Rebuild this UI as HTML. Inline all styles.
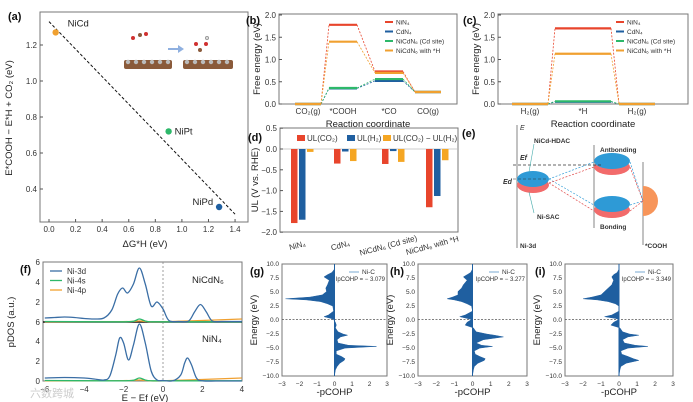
<!DOCTYPE html>
<html><head><meta charset="utf-8">
<style>
body{margin:0;background:#fff}
svg{display:block;font-family:"Liberation Sans",sans-serif}
.t{font-size:8px;fill:#333}
.lab{font-size:9.5px;fill:#222}
.pl{font-size:11px;font-weight:bold;fill:#111}
.fr{fill:none;stroke:#777;stroke-width:1}
</style></head>
<body>
<svg id="s" width="693" height="402" viewBox="0 0 693 402" xmlns="http://www.w3.org/2000/svg"></svg>
<script>
// ---------- data ----------
const aNames=["NiCd","NiPt","NiPd"];
const aX=[0.05,0.9,1.28];
const aY=[1.27,0.72,0.3];
const aColors=["#f0a030","#2db86a","#1f5fa0"];
const bSteps=["CO\u2082(g)","*COOH","*CO","CO(g)"];
const bNiN4=[0,1.78,0.73,0.27];
const bCdN4=[0,0.35,0.52,0.27];
const bCdSite=[0,0.36,0.56,0.27];
const bWithH=[0,1.4,0.7,0.27];
const cSteps=["H\u2082(g)","*H","H\u2082(g)"];
const cNiN4=[0,1.7,0];
const cCdN4=[0,0.05,0];
const cCdSite=[0,0.06,0];
const cWithH=[0,1.13,0];
const dCats=["NiN\u2084","CdN\u2084","NiCdN\u2086 (Cd site)","NiCdN\u2086 with *H"];
const dCO2=[-1.78,-0.35,-0.36,-1.4];
const dH2=[-1.7,-0.06,-0.05,-1.13];
const dDiff=[-0.07,-0.29,-0.31,-0.27];
const fEu=[-6,-5.5,-5,-4.5,-4,-3.5,-3,-2.6,-2.3,-2.05,-1.8,-1.5,-1.2,-0.9,-0.6,-0.3,0,0.3,0.8,1.3,1.6,1.9,2.2,2.5,3,4];
const fUp3d=[0.4,0.45,0.5,0.45,0.35,0.3,0.4,1.2,2.8,3.4,2.9,3.8,5.4,3.8,1.6,2.0,1.3,0.15,0.05,0.1,1.0,1.75,1.0,0.1,0.05,0.05];
const fEl=[-6,-5,-4,-3.5,-3,-2.7,-2.4,-2.2,-2.0,-1.75,-1.5,-1.2,-0.9,-0.6,-0.3,0,0.5,0.9,1.1,1.25,1.45,1.7,2,3,4];
const fLo3d=[0.3,0.35,0.3,0.2,0.1,0.5,2.6,4.3,3.8,2.1,3.6,5.7,3.8,1.0,0.1,0.05,0.02,0.6,1.8,2.3,1.6,0.3,0.02,0,0];
const fE4=[-6,-3,-1.6,-1.2,-0.8,0,4];
const f4s=[0.05,0.02,0.05,0.3,0.05,0.02,0.02];
const f4p=[0.02,0.02,0.05,0.1,0.05,0.02,0.3];
const cohpE=[9,8.4,8,7.6,7,6.2,5.6,5,4.4,4,3.7,3.5,3.2,2.8,2.4,1.5,0.8,0.5,0.2,0,-0.5,-1,-1.5,-2.2,-2.6,-2.8,-3.1,-3.6,-4.2,-4.6,-4.8,-5.1,-5.6,-6.2,-6.6,-7,-7.3,-7.8,-8.4,-9,-10];
const gV=[0,-0.15,-0.4,-0.6,-0.3,-0.4,-0.5,-0.45,-0.7,-1.4,-2.8,-1.6,-0.8,-0.4,-0.1,-0.05,-0.35,-0.6,-0.2,-0.05,0.05,0.1,0.05,0.2,0.5,0.75,0.35,0.15,0.2,0.8,2.4,0.6,0.1,0.1,0.4,0.6,0.55,0.3,0.15,0.05,0];
const hV=[0,-0.1,-0.3,-0.5,-0.3,-0.5,-0.6,-0.8,-0.8,-1.1,-1.4,-1.0,-0.6,-0.3,-0.05,0,-0.4,-0.7,-0.3,-0.05,-0.3,-0.4,0.05,0.2,0.8,1.2,1.7,0.6,0.2,0.5,1.1,0.4,0.1,0.15,0.4,0.7,0.65,0.3,0.1,0.05,0];
const iV=[0,-0.1,-0.3,-0.4,-0.3,-0.4,-0.6,-0.8,-1.0,-1.5,-2.0,-1.2,-0.6,-0.2,0,0,-0.4,-0.8,-0.2,0,-0.3,-0.45,0.05,0.2,0.6,1.1,0.5,0.2,0.3,0.9,1.6,0.5,0.1,0.15,0.5,0.8,1.1,0.4,0.1,0.05,0];
const gIp="\u2212 3.079", hIp="\u2212 3.277", iIp="\u2212 3.349";

// ---------- helpers ----------
const S=document.getElementById('s');
const NS="http://www.w3.org/2000/svg";
function mk(tag,at,txt,par){const e=document.createElementNS(NS,tag);for(const k in at)e.setAttribute(k,at[k]);if(txt!=null)e.textContent=txt;(par||S).appendChild(e);return e;}
function T(x,y,s,cls,anchor,extra){const e=mk('text',Object.assign({x:x,y:y,class:cls||'t','text-anchor':anchor||'middle'},extra||{}),s);return e;}
function smooth(pts){let d="M"+pts[0][0]+","+pts[0][1];for(let i=0;i<pts.length-1;i++){const p0=pts[i-1]||pts[i],p1=pts[i],p2=pts[i+1],p3=pts[i+2]||p2;
const c1=[p1[0]+(p2[0]-p0[0])/6,p1[1]+(p2[1]-p0[1])/6],c2=[p2[0]-(p3[0]-p1[0])/6,p2[1]-(p3[1]-p1[1])/6];d+="C"+c1+" "+c2+" "+p2;}return d;}
function panelLabel(x,y,s){const e=T(x,y,s,'pl','start');}

// ---------- (a) ----------
(function(){
const X=v=>49+v*132.9, Y=v=>45+(1.2-v)*180;
const g=mk('g',{});
mk('rect',{x:40,y:12,width:208,height:210,class:'fr'},null,g);
[0,0.2,0.4,0.6,0.8,1.0,1.2,1.4].forEach(v=>{mk('line',{x1:X(v),x2:X(v),y1:222,y2:219,stroke:'#555'},null,g);T(X(v),232,v.toFixed(1));});
[0.4,0.6,0.8,1.0,1.2].forEach(v=>{mk('line',{x1:40,x2:43,y1:Y(v),y2:Y(v),stroke:'#555'},null,g);T(37,Y(v)+3,v.toFixed(1),'t','end');});
T(145,247,"ΔG*H (eV)",'lab');
const yl=T(12,118,"E*COOH − E*H + CO₂ (eV)",'lab','middle',{transform:'rotate(-90 12 118)'});
const dl=mk('line',{x1:X(0),y1:Y(1.33),x2:X(1.4),y2:Y(0.26),stroke:'#111','stroke-dasharray':'3,2','stroke-width':1},null,g);

aX.forEach((v,i)=>{const c=mk('circle',{cx:X(v),cy:Y(aY[i]),r:3.2,fill:aColors[i]},null,g);
});
T(X(aX[0])+12,Y(aY[0])-6,aNames[0],'lab','start');
T(X(aX[1])+6,Y(aY[1])+3,aNames[1],'lab','start');
T(X(aX[2])-6,Y(aY[2])-2,aNames[2],'lab','end');
panelLabel(8,20,"(a)");
// inset
const ins=mk('g',{});
mk('rect',{x:124,y:60,width:48,height:9,fill:'#8a5a3a',rx:2},null,ins);
mk('rect',{x:183,y:60,width:50,height:9,fill:'#8a5a3a',rx:2},null,ins);
for(let i=0;i<6;i++){mk('circle',{cx:128+i*8,cy:62,r:2.2,fill:'#bbb'},null,ins);mk('circle',{cx:187+i*8,cy:62,r:2.2,fill:'#bbb'},null,ins);}
mk('circle',{cx:133,cy:38,r:2,fill:'#d03030'},null,ins);mk('circle',{cx:140,cy:35,r:2,fill:'#8a5a3a'},null,ins);mk('circle',{cx:146,cy:34,r:2,fill:'#d03030'},null,ins);
mk('path',{d:'M168,48 L178,48 L178,45 L184,49 L178,53 L178,50 L168,50Z',fill:'#8fb0e0'},null,ins);
mk('circle',{cx:196,cy:44,r:2,fill:'#d03030'},null,ins);mk('circle',{cx:200,cy:50,r:2,fill:'#8a5a3a'},null,ins);mk('circle',{cx:206,cy:44,r:2,fill:'#d03030'},null,ins);mk('circle',{cx:207,cy:38,r:1.5,fill:'#eee',stroke:'#999'},null,ins);
})();

// ---------- (b),(c) ----------
const lvlCols=["#e8452c","#1f5fa0","#2db86a","#f0a030"];
function energyPanel(x0,x1,name,steps,series,cx,hw){
const Y=v=>104-v*44.5;
const g=mk('g',{});
mk('rect',{x:x0,y:14,width:x1-x0,height:90,class:'fr'},null,g);
[0,0.5,1.0,1.5,2.0].forEach(v=>{mk('line',{x1:x0,x2:x0+3,y1:Y(v),y2:Y(v),stroke:'#555'},null,g);T(x0-3,Y(v)+3,v.toFixed(1),'t','end');});
steps.forEach((s,i)=>T(cx[i],114,s));
T((x0+x1)/2,127,"Reaction coordinate",'lab');
T(x0-19,59,"Free energy (eV)",'lab','middle',{transform:`rotate(-90 ${x0-19} 59)`});
series.forEach((sv,k)=>{
  for(let i=0;i<sv.length;i++){
    const l=mk('line',{x1:cx[i]-hw[i],x2:cx[i]+hw[i],y1:Y(sv[i]),y2:Y(sv[i]),stroke:lvlCols[k],'stroke-width':2.2},null,g);
    
    if(i<sv.length-1)mk('line',{x1:cx[i]+hw[i],x2:cx[i+1]-hw[i+1],y1:Y(sv[i]),y2:Y(sv[i+1]),stroke:lvlCols[k],'stroke-width':0.8,'stroke-dasharray':'2,1.5'},null,g);
  }});
const lg=mk('g',{},null,g);
["NiN₄","CdN₄","NiCdN₆ (Cd site)","NiCdN₆ with *H"].forEach((s,k)=>{const ly=22+k*9.5;
 mk('line',{x1:x1-72,x2:x1-64,y1:ly,y2:ly,stroke:lvlCols[k],'stroke-width':2},null,lg);
 const t=T(x1-61,ly+2.5,s,'t','start');t.style.fontSize='6.5px';});
}
energyPanel(279,457,'panel-b-co2rr-energy',bSteps,[bNiN4,bCdN4,bCdSite,bWithH],[308,343,389,428],[13,14,14,13]);
energyPanel(498,688,'panel-c-her-energy',cSteps,[cNiN4,cCdN4,cCdSite,cWithH],[530,583,637],[18,28,18]);
panelLabel(246,24,"(b)");panelLabel(463,24,"(c)");

// ---------- (d) ----------
(function(){
const Y=v=>149-v*41.6, cx=[302,345,393,437], cols=["#e8452c","#1f5fa0","#f5a623"];
const g=mk('g',{});
mk('rect',{x:280,y:128,width:178,height:104,class:'fr'},null,g);
mk('line',{x1:280,x2:458,y1:Y(0),y2:Y(0),stroke:'#bbb','stroke-width':0.8},null,g);
[0.5,0,-0.5,-1,-1.5,-2].forEach(v=>{mk('line',{x1:280,x2:283,y1:Y(v),y2:Y(v),stroke:'#555'},null,g);T(277,Y(v)+3,v.toFixed(1).replace('-','−'),'t','end');});
T(258,180,"UL (V vs. RHE)",'lab','middle',{transform:'rotate(-90 258 180)'});
[dCO2,dH2,dDiff].forEach((arr,k)=>arr.forEach((v,i)=>{
 const r=mk('rect',{x:cx[i]-11+k*8,y:Y(0),width:6.5,height:Y(v)-Y(0),fill:cols[k]},null,g);
 }));
dCats.forEach((s,i)=>T(cx[i]-4,248,s,'t','middle',{transform:`rotate(-15 ${cx[i]-4} 248)`}));
const lg=mk('g',{},null,g);
[["UL(CO₂)",297],["UL(H₂)",347],["UL(CO₂) − UL(H₂)",383]].forEach((it,k)=>{mk('rect',{x:it[1],y:135,width:8,height:6,fill:cols[k]},null,lg);T(it[1]+10,141,it[0],'t','start');});
panelLabel(248,141,"(d)");
})();

// ---------- (e) ----------
(function(){
const g=mk('g',{});
mk('line',{x1:517,x2:517,y1:125,y2:248,stroke:'#999','stroke-width':1.2},null,g);
mk('line',{x1:594,x2:594,y1:145,y2:228,stroke:'#999','stroke-width':1.2},null,g);
mk('line',{x1:643,x2:643,y1:162,y2:245,stroke:'#999','stroke-width':1.2},null,g);
mk('ellipse',{cx:533,cy:185,rx:16,ry:8,fill:'#f26b6b'},null,g);
mk('ellipse',{cx:533,cy:179,rx:16,ry:8,fill:'#2e9ad6'},null,g);
mk('ellipse',{cx:612,cy:167,rx:18,ry:8,fill:'#f26b6b'},null,g);
mk('ellipse',{cx:612,cy:161,rx:18,ry:8,fill:'#2e9ad6'},null,g);
mk('ellipse',{cx:612,cy:210,rx:18,ry:8,fill:'#f26b6b'},null,g);
mk('ellipse',{cx:612,cy:204,rx:18,ry:8,fill:'#2e9ad6'},null,g);
mk('path',{d:'M643,186 A15,15 0 0 1 643,216 Z',fill:'#f7955a'},null,g);
mk('line',{x1:513,x2:603,y1:165,y2:165,stroke:'#333','stroke-dasharray':'3,2','stroke-width':0.8},null,g);
mk('line',{x1:513,x2:548,y1:179,y2:179,stroke:'#333','stroke-dasharray':'3,2','stroke-width':0.6},null,g);
[[549,179,594,162,'#2e9ad6'],[549,179,594,205,'#2e9ad6'],[549,183,594,167,'#e04848'],[549,183,594,211,'#e04848'],[630,162,643,201,'#2e9ad6'],[630,205,643,201,'#2e9ad6'],[630,167,643,201,'#e04848'],[630,211,643,201,'#e04848']].forEach(a=>mk('line',{x1:a[0],y1:a[1],x2:a[2],y2:a[3],stroke:a[4],'stroke-dasharray':'2,1.5','stroke-width':0.7},null,g));
mk('line',{x1:534,y1:144,x2:529,y2:172,stroke:'#4aa','stroke-width':0.6},null,g);
mk('line',{x1:534,y1:213,x2:529,y2:192,stroke:'#4aa','stroke-width':0.6},null,g);
const sm={style:'font-size:6.5px;font-weight:bold'};
T(534,143,"NiCd-HDAC",'t','start',sm);T(537,219,"Ni-SAC",'t','start',sm);
T(600,152,"Antbonding",'t','start',sm);T(600,229,"Bonding",'t','start',sm);
T(645,248,"*COOH",'t','start',sm);T(520,248,"Ni-3d",'t','start',sm);
T(520,130,"E",'t','start',{style:'font-size:7px;font-style:italic'});
T(520,160,"Ef",'t','start',{style:'font-size:7px;font-style:italic;font-weight:bold'});
T(503,184,"Ed",'t','start',{style:'font-size:7px;font-style:italic;font-weight:bold'});
panelLabel(462,137,"(e)");
})();

// ---------- (f) ----------
(function(){
const X=v=>163+v*19.7, Yu=v=>322-v*10, Yl=v=>381-v*10;
const g=mk('g',{});
mk('rect',{x:43,y:262,width:199,height:119,class:'fr'},null,g);
mk('line',{x1:43,x2:242,y1:322,y2:322,stroke:'#111','stroke-width':1.5},null,g);
mk('line',{x1:X(0),x2:X(0),y1:262,y2:381,stroke:'#888','stroke-dasharray':'2,2','stroke-width':0.8},null,g);
[-6,-4,-2,0,2,4].forEach(v=>T(X(v),392,String(v).replace('-','−')));
[[262,"6"],[282,"4"],[302,"2"],[322,"6"],[341,"4"],[361,"2"],[381,"0"]].forEach(a=>T(40,a[0]+3,a[1],'t','end'));
T(145,401,"E − Ef (eV)",'lab');
T(14,322,"pDOS (a.u.)",'lab','middle',{transform:'rotate(-90 14 322)'});
const addCurve=(E,V,Y,col,nm)=>{const p=mk('path',{d:smooth(E.map((e,i)=>[X(e),Y(V[i])])),fill:'none',stroke:col,'stroke-width':1.3},null,g);};
addCurve(fE4,f4p,Yu,'#f0a030','nicdn6-ni4p');addCurve(fE4,f4s,Yu,'#2db86a','nicdn6-ni4s');addCurve(fEu,fUp3d,Yu,'#3a6ea5','nicdn6-ni3d');
addCurve(fE4,f4p,Yl,'#f0a030','nin4-ni4p');addCurve(fE4,f4s,Yl,'#2db86a','nin4-ni4s');addCurve(fEl,fLo3d,Yl,'#3a6ea5','nin4-ni3d');
T(192,283,"NiCdN₆",'lab','start');T(202,342,"NiN₄",'lab','start');
[["Ni-3d",'#3a6ea5'],["Ni-4s",'#2db86a'],["Ni-4p",'#f0a030']].forEach((a,k)=>{mk('line',{x1:50,x2:62,y1:271+k*9.5,y2:271+k*9.5,stroke:a[1],'stroke-width':1.3},null,g);T(67,274+k*9.5,a[0],'t','start');});
panelLabel(20,273,"(f)");
T(30,397,"六数跨城",'t','start',{style:'font-size:11px;fill:#ccc',"font-family":"Noto Sans CJK SC, sans-serif"});
})();

// ---------- (g)(h)(i) ----------
function cohp(x0,x1,vals,ip,name,lbl,lx){
const mid=(x0+x1)/2, X=v=>mid+v*(x1-x0)/6, Y=v=>319.5-v*5.6;
const g=mk('g',{});
mk('rect',{x:x0,y:264,width:x1-x0,height:112,class:'fr'},null,g);
mk('line',{x1:x0,x2:x1,y1:Y(0),y2:Y(0),stroke:'#555','stroke-dasharray':'2,1.5','stroke-width':0.7},null,g);
let d="M"+X(0)+","+Y(cohpE[0]);cohpE.forEach((e,i)=>d+="L"+X(vals[i]).toFixed(1)+","+Y(e).toFixed(1));d+="L"+X(0)+","+Y(cohpE[cohpE.length-1])+"Z";
const p=mk('path',{d:d,fill:'#1f5fa0',stroke:'#1f5fa0','stroke-width':0.5},null,g);
mk('line',{x1:X(0),x2:X(0),y1:264,y2:376,stroke:'#1f5fa0','stroke-width':1},null,g);
[10,7.5,5,2.5,0,-2.5,-5,-7.5,-10].forEach(v=>T(x0-3,Y(v)+2.5,v.toFixed(1).replace('-','−'),'t','end',{style:'font-size:6.5px'}));
[-3,-2,-1,0,1,2,3].forEach(v=>T(X(v),386,String(v).replace('-','−'),'t','middle',{style:'font-size:6.5px'}));
T(mid,395,"-pCOHP",'lab');
T(x0-25,320,"Energy (eV)",'lab','middle',{transform:`rotate(-90 ${x0-25} 320)`});
mk('line',{x1:x1-38,x2:x1-28,y1:272,y2:272,stroke:'#7aa8d0','stroke-width':1},null,g);
T(x1-25,274,"Ni-C",'t','start',{style:'font-size:6.5px'});
T(x1-2,281,"IpCOHP = "+ip,'t','end',{style:'font-size:6px'});
panelLabel(lx,275,lbl);
}
cohp(282,387,gV,gIp,'panel-g-cohp','(g)',250);
cohp(418,527,hV,hIp,'panel-h-cohp','(h)',390);
cohp(565,673,iV,iIp,'panel-i-cohp','(i)',535);
</script>
</body></html>
